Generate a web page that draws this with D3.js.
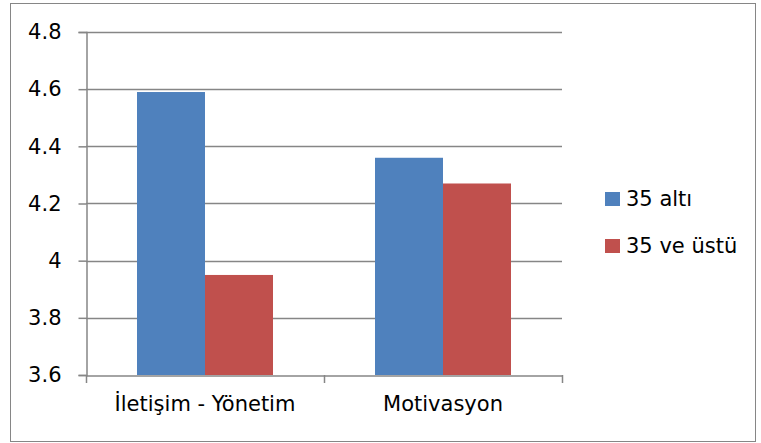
<!DOCTYPE html>
<html>
<head>
<meta charset="utf-8">
<script src="https://cdn.jsdelivr.net/npm/d3@7"></script>
<style>
  html, body { margin: 0; padding: 0; background: #fff; }
  svg { display: block; }
  text { font-family: "DejaVu Sans", "Open Sans", sans-serif; fill: #000; }
</style>
</head>
<body>
<svg id="chart" width="761" height="443"></svg>
<script>
const categories = ["İletişim - Yönetim", "Motivasyon"];
const seriesNames = ["35 altı", "35 ve üstü"];
const seriesColors = ["#4F81BD", "#C0504D"];
const under35 = [4.59, 4.36];
const over35 = [3.95, 4.27];
const yTicks = [3.6, 3.8, 4.0, 4.2, 4.4, 4.6, 4.8];
const yTickLabels = ["3.6", "3.8", "4", "4.2", "4.4", "4.6", "4.8"];

const seriesValues = [under35, over35];
const fontSize = "21px";
const axisGray = "#868686";
const svg = d3.select("#chart");

// outer frame
svg.append("rect")
  .attr("x", 10.5).attr("y", 3.5)
  .attr("width", 745).attr("height", 438)
  .attr("fill", "#fff").attr("stroke", axisGray).attr("stroke-width", 1);

const plot = { left: 86, right: 562, top: 32, bottom: 375 };

const x0 = d3.scaleBand().domain(categories).range([plot.left, plot.right]);
const x1 = d3.scaleBand().domain(seriesNames).range([0, x0.bandwidth()]).paddingInner(0).paddingOuter(0.75);
const y = d3.scaleLinear().domain([3.6, 4.8]).range([plot.bottom, plot.top]);

// horizontal gridlines
svg.append("g").selectAll("line").data(yTicks.slice(1)).join("line")
  .attr("x1", plot.left).attr("x2", plot.right)
  .attr("y1", d => Math.round(y(d)) + 0.5).attr("y2", d => Math.round(y(d)) + 0.5)
  .attr("stroke", axisGray).attr("stroke-width", 1.5);

// bars
const groups = svg.append("g").selectAll("g").data(categories).join("g")
  .attr("transform", d => `translate(${x0(d)},0)`);
groups.selectAll("rect")
  .data((c, i) => seriesNames.map((s, j) => ({ s, v: seriesValues[j][i], j })))
  .join("rect")
  .attr("x", d => x1(d.s))
  .attr("width", x1.bandwidth())
  .attr("y", d => y(d.v))
  .attr("height", d => y(3.6) - y(d.v))
  .attr("fill", d => seriesColors[d.j]);

// y axis
const yAxis = d3.axisLeft(y).tickValues(yTicks)
  .tickFormat((d, i) => yTickLabels[i]).tickSize(8).tickPadding(17);
const gy = svg.append("g").attr("transform", `translate(${plot.left + 0.5},0)`).call(yAxis);
gy.attr("font-family", null).attr("font-size", null);
gy.select(".domain").attr("stroke", axisGray).attr("stroke-width", 1.5);
gy.selectAll(".tick line").attr("stroke", axisGray).attr("stroke-width", 1.5);
gy.selectAll(".tick text").style("font-size", fontSize).attr("fill", "#000");

// x axis
const xAxis = d3.axisBottom(x0).tickSize(0).tickPadding(21);
const gx = svg.append("g").attr("transform", `translate(0,${plot.bottom + 0.5})`).call(xAxis);
gx.attr("font-family", null).attr("font-size", null);
gx.select(".domain").attr("stroke", axisGray).attr("stroke-width", 1.5);
gx.selectAll(".tick text").style("font-size", fontSize).attr("fill", "#000");
// category boundary ticks
const bounds = [plot.left, plot.left + x0.bandwidth(), plot.right];
svg.append("g").selectAll("line").data(bounds).join("line")
  .attr("x1", d => d + 0.5).attr("x2", d => d + 0.5)
  .attr("y1", plot.bottom).attr("y2", plot.bottom + 8)
  .attr("stroke", axisGray).attr("stroke-width", 1.5);

// legend
const legend = svg.append("g").selectAll("g").data(seriesNames).join("g")
  .attr("transform", (d, i) => `translate(605,${199 + i * 47})`);
legend.append("rect").attr("x", 0).attr("y", -7).attr("width", 15).attr("height", 14)
  .attr("fill", (d, i) => seriesColors[i]);
legend.append("text").attr("x", 21).attr("y", 7)
  .style("font-size", fontSize).text(d => d);
</script>
</body>
</html>
